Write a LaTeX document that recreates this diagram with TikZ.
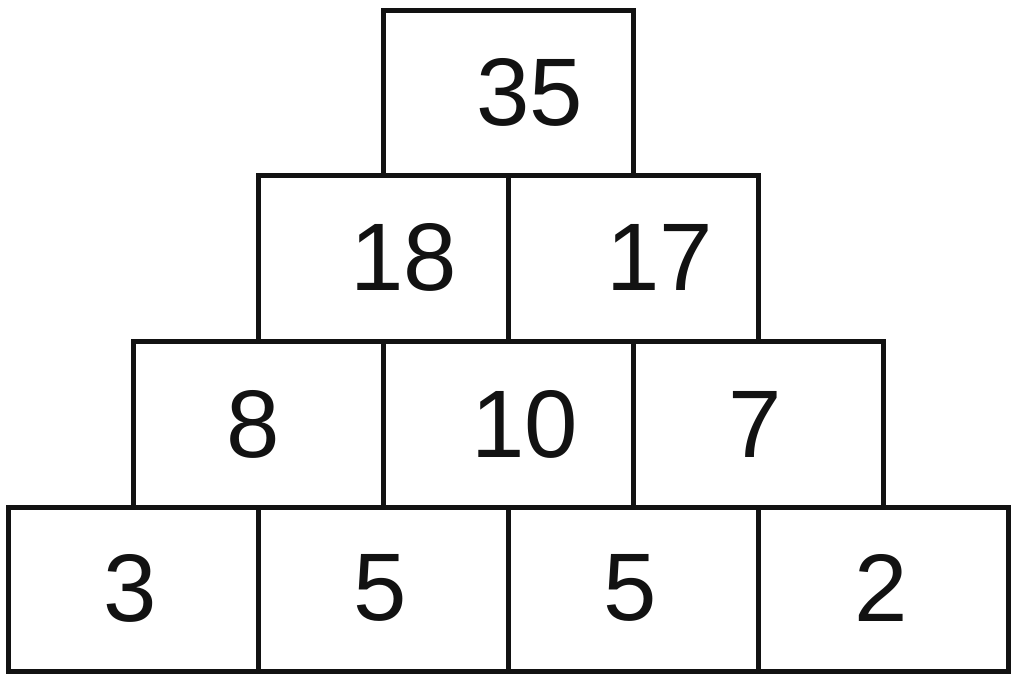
\documentclass[tikz,border=0pt]{standalone}
\usepackage{fontspec}
\setmainfont{Liberation Sans}
\begin{document}
\begin{tikzpicture}[x=1pt,y=-1pt,
  cell/.style={draw=black!93,line width=5pt,minimum width=250pt,inner sep=0pt,fill=none},
  num/.style={inner sep=0pt,text=black!93,font=\fontsize{96}{100}\selectfont}]
\useasboundingbox (0,0) rectangle (1024,683);
% top
\node[cell,minimum height=165pt] (t) at (508,92.5) {};
% row 2
\node[cell,minimum height=166pt] (b1) at (383,258) {};
\node[cell,minimum height=166pt] (b2) at (633,258) {};
% row 3
\node[cell,minimum height=166pt] (c1) at (258,424) {};
\node[cell,minimum height=166pt] (c2) at (508,424) {};
\node[cell,minimum height=166pt] (c3) at (758,424) {};
% bottom
\node[cell,minimum height=164pt] (d1) at (133,589) {};
\node[cell,minimum height=164pt] (d2) at (383,589) {};
\node[cell,minimum height=164pt] (d3) at (633,589) {};
\node[cell,minimum height=164pt] (d4) at (883,589) {};
% numbers
\node[num] (nt) at (530,92) {35};
\node[num] (nb1) at (404,257) {18};
\node[num] (nb2) at (660,257) {17};
\node[num] (nc1) at (253,424) {8};
\node[num] (nc2) at (525,424) {10};
\node[num] (nc3) at (755,424) {7};
\node[num] (nd1) at (130,588) {3};
\node[num] (nd2) at (380,588) {5};
\node[num] (nd3) at (630,588) {5};
\node[num] (nd4) at (881,588) {2};
\end{tikzpicture}
\end{document}
